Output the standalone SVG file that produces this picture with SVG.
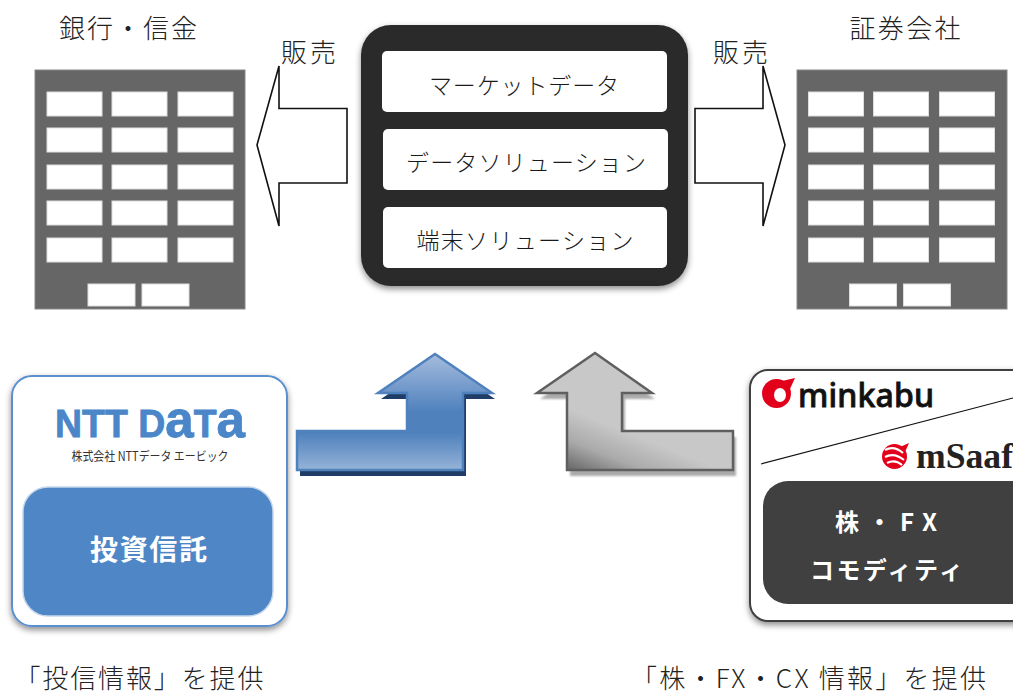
<svg xmlns="http://www.w3.org/2000/svg" width="1013" height="693" viewBox="0 0 1013 693">
<style>
text{font-family:"Noto Sans CJK JP","Noto Sans",sans-serif;fill:#333;text-anchor:middle}
.t{font-size:26px;font-weight:300;fill:#222}
.m{font-size:23px;font-weight:300;fill:#1a1a1a}
.b{font-size:26px;font-weight:700;fill:#fff}
.bld{fill:#666;stroke:#888;stroke-width:1}
.win{fill:#fff;stroke:#ddd;stroke-width:1}
.in{fill:#fff}
.sell{fill:#fff;stroke:#111;stroke-width:1.6}
</style>
<defs>
<filter id="bl" x="-5%" y="-5%" width="110%" height="110%"><feGaussianBlur stdDeviation="0.6"/></filter>
<filter id="sh" x="-10%" y="-10%" width="120%" height="120%"><feDropShadow dx="0" dy="3" stdDeviation="3" flood-color="#000" flood-opacity="0.45"/></filter>
<filter id="sg" x="-10%" y="-10%" width="125%" height="125%"><feGaussianBlur stdDeviation="1.2"/></filter>
<linearGradient id="gb" x1="0" y1="0" x2="0" y2="1"><stop offset="0" stop-color="#a5bcdd"/><stop offset="0.5" stop-color="#4f81bd"/><stop offset="0.68" stop-color="#4f81bd"/><stop offset="1" stop-color="#95b3d7"/></linearGradient>
<linearGradient id="gg" gradientUnits="userSpaceOnUse" x1="578" y1="482" x2="602" y2="422"><stop offset="0" stop-color="#555"/><stop offset="0.55" stop-color="#aaa"/><stop offset="1" stop-color="#c8c8c8"/></linearGradient>
<g id="windows">
<rect class="win" x="47" y="92" width="55" height="24"/><rect class="win" x="112" y="92" width="55" height="24"/><rect class="win" x="178" y="92" width="55" height="24"/>
<rect class="win" x="47" y="128" width="55" height="24"/><rect class="win" x="112" y="128" width="55" height="24"/><rect class="win" x="178" y="128" width="55" height="24"/>
<rect class="win" x="47" y="165" width="55" height="24"/><rect class="win" x="112" y="165" width="55" height="24"/><rect class="win" x="178" y="165" width="55" height="24"/>
<rect class="win" x="47" y="201" width="55" height="24"/><rect class="win" x="112" y="201" width="55" height="24"/><rect class="win" x="178" y="201" width="55" height="24"/>
<rect class="win" x="47" y="238" width="55" height="24"/><rect class="win" x="112" y="238" width="55" height="24"/><rect class="win" x="178" y="238" width="55" height="24"/>
<rect class="win" x="88" y="284" width="47" height="22"/><rect class="win" x="142" y="284" width="47" height="22"/>
</g>
</defs>
<rect width="1013" height="693" fill="#fff"/>

<g id="connectors">
<path class="sell" d="M347 108.500H279V66L257 145L279 226V183H347Z"/>
<path class="sell" d="M695 108.500H763V66L785 145L763 226V183H695Z"/>
<path d="M297 431H407V393H378L435 354L492 393H463V470H297Z" fill="#1f3d66" transform="translate(3 6)"/>
<path d="M297 431H407V393H378L435 354L492 393H463V470H297Z" fill="url(#gb)" stroke="#4f81bd" stroke-width="2.500"/>
<path d="M537 393H567V470H733V431H622V393H652L595 353Z" fill="#aaa" filter="url(#sg)" transform="translate(3 6)"/>
<path d="M537 393H567V470H733V431H622V393H652L595 353Z" fill="url(#gg)" stroke="#5f5f5f" stroke-width="2.500"/>
</g>

<g id="bank">
<text class="t" x="128" y="38" textLength="138">銀行・信金</text>
<g filter="url(#bl)">
<rect class="bld" x="35" y="70" width="210" height="239"/>
<use href="#windows"/>
</g>
</g>

<g id="securities">
<text class="t" x="905" y="38" textLength="111">証券会社</text>
<g filter="url(#bl)">
<rect class="bld" x="797" y="70" width="210" height="239"/>
<use href="#windows" x="761.500"/>
</g>
</g>

<g id="sell-left"><text class="t" x="308.500" y="62" textLength="55">販売</text></g>
<g id="sell-right"><text class="t" x="740.500" y="62" textLength="55">販売</text></g>

<g id="center">
<rect x="361" y="25" width="327" height="261" rx="30" fill="#2b2b2b" filter="url(#sh)"/>
<rect class="in" x="382" y="51" width="285" height="61" rx="5"/>
<rect class="in" x="383" y="129" width="285" height="61" rx="5"/>
<rect class="in" x="383" y="207" width="284" height="61" rx="5"/>
<text class="m" x="524" y="94" textLength="190">マーケットデータ</text>
<text class="m" x="526" y="171" textLength="240">データソリューション</text>
<text class="m" x="525" y="249" textLength="217">端末ソリューション</text>
</g>

<g id="ntt">
<rect x="12" y="376" width="275" height="250" rx="20" fill="#fff" stroke="#5b8fd0" stroke-width="2" filter="url(#sh)"/>
<text x="150" y="437" textLength="190" lengthAdjust="spacingAndGlyphs" style="font-family:'Liberation Sans',sans-serif;font-size:38px;font-weight:700;fill:#4a86c8;stroke:#4a86c8;stroke-width:0.8">NTT D<tspan style="font-size:52px">a</tspan>T<tspan style="font-size:52px">a</tspan></text>
<text x="150" y="461" textLength="157" lengthAdjust="spacingAndGlyphs" style="font-size:12.500px;fill:#333">株式会社 NTTデータ エービック</text>
<rect x="23" y="487" width="250" height="129" rx="25" fill="#4f86c6" stroke="#c5d6ec" stroke-width="1.500"/>
<text class="b" x="148.500" y="560" textLength="117" style="font-size:28px">投資信託</text>
<text class="t" x="139" y="688" textLength="249">「投信情報」を提供</text>
</g>

<g id="minkabu">
<rect x="750" y="370" width="290" height="251" rx="18" fill="#fff" stroke="#404040" stroke-width="2" filter="url(#sh)"/>
<circle cx="776.500" cy="393.500" r="14.500" fill="#e2001a"/><ellipse cx="780" cy="395" rx="6" ry="7" fill="#fff"/><path d="M782 381L795 378L789 391Z" fill="#e2001a"/>
<text x="798" y="407" textLength="136" lengthAdjust="spacing" style="text-anchor:start;font-family:'Noto Sans',sans-serif;font-size:32px;font-weight:500;fill:#111;stroke:#111;stroke-width:0.8">minkabu</text>
<line x1="761" y1="464" x2="1013" y2="398" stroke="#111" stroke-width="1.200"/>
<circle cx="894.500" cy="456.500" r="12.500" fill="#e2001a"/><path d="M885 450Q894 445 903 453M885 457Q894 452 904 460M887 463Q895 459 902 465" fill="none" stroke="#fff" stroke-width="2.200"/><path d="M900 447L909 443L905 452Z" fill="#e2001a"/>
<text x="916" y="468" textLength="97" lengthAdjust="spacingAndGlyphs" style="text-anchor:start;font-family:'Liberation Serif',serif;font-size:36px;font-weight:700;fill:#222">mSaaf</text>
<rect x="763" y="481" width="280" height="123" rx="25" fill="#404040"/>
<text class="b" x="886" y="531" textLength="102" style="font-size:24px">株・FX</text>
<text class="b" x="886.500" y="579" textLength="153" style="font-size:24px">コモディティ</text>
<text class="t" x="808.500" y="688" textLength="355">「株・FX・CX 情報」を提供</text>
</g>
</svg>
